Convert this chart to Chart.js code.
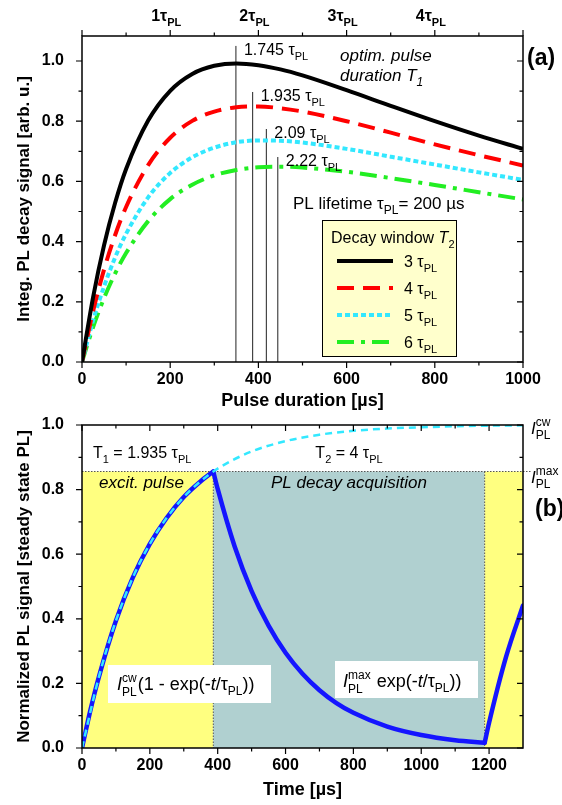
<!DOCTYPE html>
<html>
<head>
<meta charset="utf-8">
<script src="https://cdn.jsdelivr.net/npm/chart.js@4"></script>
<style>
  html, body { margin: 0; padding: 0; background: #fff; }
  #wrap { position: relative; width: 562px; height: 805px; }
  #wrap canvas { position: absolute; left: 0; top: 0; }
</style>
</head>
<body>
<div id="wrap">
  <canvas id="chartA" width="562" height="805"></canvas>
  <canvas id="chartB" width="562" height="805"></canvas>
</div>
<script>
// (a) integrated PL decay signal vs. excitation pulse duration, tau_PL = 200 us
var pulseDur = [0, 25, 50, 75, 100, 150, 200, 250, 300, 350, 400, 450, 500, 600, 700, 800, 900, 1000];
var sig3tau = [0, 0.214, 0.388, 0.528, 0.641, 0.802, 0.901, 0.957, 0.984, 0.992, 0.986, 0.972, 0.952, 0.903, 0.851, 0.800, 0.752, 0.708];
var sig4tau = [0, 0.168, 0.307, 0.421, 0.515, 0.654, 0.745, 0.801, 0.832, 0.846, 0.849, 0.843, 0.832, 0.800, 0.762, 0.723, 0.687, 0.653];
var sig5tau = [0, 0.137, 0.251, 0.347, 0.426, 0.547, 0.628, 0.680, 0.712, 0.730, 0.736, 0.735, 0.729, 0.708, 0.682, 0.656, 0.630, 0.605];
var sig6tau = [0, 0.115, 0.212, 0.294, 0.362, 0.468, 0.541, 0.589, 0.620, 0.638, 0.647, 0.649, 0.646, 0.632, 0.611, 0.588, 0.564, 0.540];
var windowLabels = ['3', '4', '5', '6'];
var optPulse = [349, 387, 418, 444];
var optLabels = ['1.745', '1.935', '2.09', '2.22'];
var optLineTop = [1.05, 0.897, 0.774, 0.681];
var tauTickVals = [200, 400, 600, 800];
var tauTickLabels = ['1', '2', '3', '4'];

// (b) PL transient for T1 = 1.935 tau, T2 = 4 tau
var riseT = [0, 25, 50, 100, 150, 200, 250, 300, 350, 387];
var riseI = [0, 0.118, 0.221, 0.394, 0.528, 0.632, 0.713, 0.777, 0.826, 0.856];
var decayT = [387, 400, 450, 500, 550, 600, 650, 700, 750, 800, 900, 1000, 1100, 1187];
var decayI = [0.856, 0.802, 0.624, 0.486, 0.379, 0.295, 0.230, 0.179, 0.139, 0.109, 0.066, 0.040, 0.024, 0.016];
var rise2T = [1187, 1200, 1250, 1300];
var rise2I = [0.016, 0.078, 0.282, 0.441];
var cwT = [0, 50, 100, 150, 200, 250, 300, 350, 400, 500, 600, 700, 800, 900, 1000, 1100, 1200, 1300];
var cwI = [0, 0.221, 0.394, 0.528, 0.632, 0.713, 0.777, 0.826, 0.865, 0.918, 0.950, 0.970, 0.982, 0.989, 0.993, 0.996, 0.998, 0.999];
var pulseEnd = 387, windowEnd = 1187, peakLevel = 0.856;

var FAM = '"Liberation Sans", Arial, Helvetica, sans-serif';
Chart.defaults.font.family = FAM;
Chart.defaults.color = '#000';

function pts(xs, ys) {
  return xs.map(function (x, i) { return {x: x, y: ys[i]}; });
}

function fnt(size, bold, italic) {
  return (italic ? 'italic ' : '') + (bold ? 'bold ' : '') + size + 'px ' + FAM;
}

// text with sub/superscripts; pieces are strings or {t, sub, sup, it, stack:[sup, sub]}
function richText(ctx, x, y, pieces, size, bold, align) {
  var small = Math.round(size * 0.68);
  var list = pieces.map(function (p) { return typeof p === 'string' ? {t: p} : p; });
  var widths = list.map(function (p) {
    if (p.stack) {
      ctx.font = fnt(small, bold, false);
      return Math.max(ctx.measureText(p.stack[0]).width, ctx.measureText(p.stack[1]).width) + 1;
    }
    ctx.font = fnt((p.sub || p.sup) ? small : size, bold, p.it);
    return ctx.measureText(p.t).width;
  });
  var total = widths.reduce(function (a, b) { return a + b; }, 0);
  if (align === 'center') x -= total / 2;
  else if (align === 'right') x -= total;
  ctx.textAlign = 'left';
  ctx.textBaseline = 'alphabetic';
  ctx.fillStyle = '#000';
  list.forEach(function (p, i) {
    if (p.stack) {
      ctx.font = fnt(small, bold, false);
      ctx.fillText(p.stack[0], x, y - size * 0.45);
      ctx.fillText(p.stack[1], x, y + size * 0.32);
    } else {
      ctx.font = fnt((p.sub || p.sup) ? small : size, bold, p.it);
      var dy = p.sub ? size * 0.3 : (p.sup ? -size * 0.45 : 0);
      ctx.fillText(p.t, x, y + dy);
    }
    x += widths[i];
  });
}

// closed frame with major/minor tick marks on all four sides
var frameTicks = {
  id: 'frameTicks',
  afterDraw: function (chart, args, opts) {
    var ctx = chart.ctx, a = chart.chartArea;
    var xs = chart.scales.x, ys = chart.scales.y;
    function marks(scale, cb) {
      var v = scale.ticks.map(function (t) { return t.value; });
      v.forEach(function (val) { cb(scale.getPixelForValue(val), 6); });
      for (var i = 0; i < v.length - 1; i++) cb(scale.getPixelForValue((v[i] + v[i + 1]) / 2), 3.5);
    }
    ctx.save();
    ctx.strokeStyle = '#000';
    ctx.lineWidth = 1.5;
    ctx.strokeRect(a.left, a.top, a.right - a.left, a.bottom - a.top);
    ctx.lineWidth = 1.2;
    ctx.beginPath();
    marks(xs, function (px, len) {
      ctx.moveTo(px, a.bottom); ctx.lineTo(px, a.bottom + len);
      ctx.moveTo(px, a.top); ctx.lineTo(px, a.top + (opts.topOut ? -len : len));
    });
    marks(ys, function (py, len) {
      ctx.moveTo(a.left, py); ctx.lineTo(a.left - len, py);
      ctx.moveTo(a.right, py); ctx.lineTo(a.right - len, py);
    });
    ctx.stroke();
    ctx.restore();
  }
};

function axisX(min, max, step, title, h) {
  return {
    type: 'linear', min: min, max: max,
    grid: {display: false}, border: {display: false},
    ticks: {stepSize: step, includeBounds: false, padding: 0, autoSkip: false, maxRotation: 0,
            font: {size: 16, weight: 'bold'}, color: '#000',
            callback: function (v) { return String(v); }},
    title: {display: true, text: title, font: {size: 18, weight: 'bold'}, color: '#000', padding: {top: 0, bottom: 0}},
    afterFit: function (s) { s.height = h; }
  };
}
function axisY(min, max, title) {
  return {
    type: 'linear', min: min, max: max,
    grid: {display: false}, border: {display: false},
    ticks: {stepSize: 0.2, includeBounds: false, padding: 10, font: {size: 16, weight: 'bold'}, color: '#000',
            callback: function (v) { return v.toFixed(1); }},
    title: {display: true, text: title, font: {size: 17, weight: 'bold'}, color: '#000', padding: {top: 14, bottom: 0}},
    afterFit: function (s) { s.width = 82; }
  };
}

// ---------- panel (a) ----------
var curveStyles = [
  {color: '#000000', dash: []},
  {color: '#ff0000', dash: [17, 9]},
  {color: '#33e8ff', dash: [5, 3]},
  {color: '#22ee22', dash: [17, 7, 4, 7]}
];
var curveData = [sig3tau, sig4tau, sig5tau, sig6tau];
var dsA = curveData.map(function (ys, i) {
  return {
    data: pts(pulseDur, ys), borderColor: curveStyles[i].color, borderDash: curveStyles[i].dash,
    borderWidth: 4, cubicInterpolationMode: 'monotone', pointRadius: 0, fill: false
  };
});
optPulse.forEach(function (t, i) {
  dsA.push({data: [{x: t, y: 0}, {x: t, y: optLineTop[i]}], borderColor: '#222', borderWidth: 1,
            tension: 0, pointRadius: 0, fill: false});
});

var notesA = {
  id: 'notesA',
  afterDatasetsDraw: function (chart) {
    var ctx = chart.ctx, xs = chart.scales.x, ys = chart.scales.y;
    ctx.save();
    // tau multiples on the top axis
    tauTickVals.forEach(function (v, i) {
      richText(ctx, xs.getPixelForValue(v) - 4, 21, [tauTickLabels[i] + 'τ', {t: 'PL', sub: 1}], 16, true, 'center');
    });
    // optimum pulse durations
    optPulse.forEach(function (t, i) {
      richText(ctx, xs.getPixelForValue(t) + 8, ys.getPixelForValue(optLineTop[i]) + 9,
               [optLabels[i] + ' τ', {t: 'PL', sub: 1}], 16, false, 'left');
    });
    richText(ctx, 340, 61, [{t: 'optim. pulse', it: 1}], 17, false, 'left');
    richText(ctx, 340, 81, [{t: 'duration T', it: 1}, {t: '1', sub: 1, it: 1}], 17, false, 'left');
    richText(ctx, 527, 65, ['(a)'], 23, true, 'left');
    richText(ctx, 293, 209, ['PL lifetime τ', {t: 'PL', sub: 1}, '= 200 µs'], 17, false, 'left');

    // legend box
    ctx.fillStyle = '#ffffcc';
    ctx.fillRect(322, 220, 134, 136);
    ctx.strokeStyle = '#000';
    ctx.lineWidth = 1;
    ctx.strokeRect(322.5, 220.5, 134, 136);
    richText(ctx, 331, 243, ['Decay window ', {t: 'T', it: 1}, {t: '2', sub: 1}], 16, false, 'left');
    windowLabels.forEach(function (lab, i) {
      var ds = chart.data.datasets[i];
      var y = 261 + i * 27;
      ctx.save();
      ctx.strokeStyle = ds.borderColor;
      ctx.lineWidth = ds.borderWidth;
      ctx.setLineDash(ds.borderDash);
      ctx.beginPath();
      ctx.moveTo(337, y); ctx.lineTo(393, y);
      ctx.stroke();
      ctx.restore();
      richText(ctx, 404, y + 6, [lab + ' τ', {t: 'PL', sub: 1}], 16, false, 'left');
    });
    ctx.restore();
  }
};

new Chart(document.getElementById('chartA'), {
  type: 'line',
  data: {datasets: dsA},
  options: {
    responsive: false, animation: false,
    layout: {padding: {left: 0, right: 39, top: 36, bottom: 393}},
    plugins: {legend: {display: false}, tooltip: {enabled: false}, frameTicks: {topOut: true}},
    scales: {
      x: axisX(0, 1000, 200, 'Pulse duration [µs]', 50),
      y: axisY(0, 1.083, 'Integ. PL decay signal [arb. u.]')
    }
  },
  plugins: [frameTicks, notesA]
});

// ---------- panel (b) ----------
var windows = [
  {from: 0, to: pulseEnd, color: '#ffff80'},
  {from: pulseEnd, to: windowEnd, color: '#b0d0d0'},
  {from: windowEnd, to: 1300, color: '#ffff80'}
];

var blue = {borderColor: '#1515ff', borderWidth: 4.5, cubicInterpolationMode: 'monotone',
            pointRadius: 0, fill: false, borderCapStyle: 'round', borderJoinStyle: 'round'};
var dsB = [
  {data: pts(cwT, cwI), borderColor: '#33e8ff', borderWidth: 2.5, borderDash: [7, 5],
   cubicInterpolationMode: 'monotone', pointRadius: 0, fill: false},
  Object.assign({data: pts(riseT, riseI)}, blue),
  Object.assign({data: pts(decayT, decayI)}, blue),
  Object.assign({data: pts(rise2T, rise2I)}, blue)
];

var notesB = {
  id: 'notesB',
  beforeDatasetsDraw: function (chart) {
    var ctx = chart.ctx, xs = chart.scales.x, ys = chart.scales.y, a = chart.chartArea;
    var yTop = ys.getPixelForValue(peakLevel);
    ctx.save();
    windows.forEach(function (w) {
      var x0 = xs.getPixelForValue(w.from), x1 = xs.getPixelForValue(w.to);
      ctx.fillStyle = w.color;
      ctx.fillRect(x0, yTop, x1 - x0, a.bottom - yTop);
    });
    ctx.strokeStyle = '#555';
    ctx.lineWidth = 1;
    ctx.setLineDash([1.5, 1.5]);
    ctx.beginPath();
    ctx.moveTo(a.left, yTop); ctx.lineTo(a.right + 8, yTop);
    [pulseEnd, windowEnd].forEach(function (t) {
      var px = xs.getPixelForValue(t);
      ctx.moveTo(px, yTop); ctx.lineTo(px, a.bottom);
    });
    ctx.stroke();
    ctx.restore();
  },
  afterDatasetsDraw: function (chart) {
    var ctx = chart.ctx, xs = chart.scales.x, ys = chart.scales.y;
    var mid = (xs.getPixelForValue(pulseEnd) + xs.getPixelForValue(windowEnd)) / 2;
    ctx.save();
    richText(ctx, 93, 458, ['T', {t: '1', sub: 1}, ' = 1.935 τ', {t: 'PL', sub: 1}], 16, false, 'left');
    richText(ctx, mid, 458, ['T', {t: '2', sub: 1}, ' = 4 τ', {t: 'PL', sub: 1}], 16, false, 'center');
    richText(ctx, 99, 488, [{t: 'excit. pulse', it: 1}], 17, false, 'left');
    richText(ctx, mid, 488, [{t: 'PL decay acquisition', it: 1}], 17, false, 'center');

    ctx.fillStyle = '#fff';
    ctx.fillRect(108, 665, 163, 38);
    ctx.fillRect(335, 661, 143, 37);
    richText(ctx, 117, 690, [{t: 'I', it: 1}, {stack: ['cw', 'PL']}, '(1 - exp(-', {t: 't', it: 1}, '/τ', {t: 'PL', sub: 1}, '))'], 18, false, 'left');
    richText(ctx, 343, 687, [{t: 'I', it: 1}, {stack: ['max', 'PL']}, ' exp(-', {t: 't', it: 1}, '/τ', {t: 'PL', sub: 1}, '))'], 18, false, 'left');

    richText(ctx, 531, 434, [{t: 'I', it: 1}, {stack: ['cw', 'PL']}], 17, false, 'left');
    richText(ctx, 531, 483, [{t: 'I', it: 1}, {stack: ['max', 'PL']}], 17, false, 'left');
    richText(ctx, 535, 516, ['(b)'], 23, true, 'left');
    ctx.restore();
  }
};

new Chart(document.getElementById('chartB'), {
  type: 'line',
  data: {datasets: dsB},
  options: {
    responsive: false, animation: false,
    layout: {padding: {left: 0, right: 39, top: 425, bottom: 4}},
    plugins: {legend: {display: false}, tooltip: {enabled: false}, frameTicks: {topOut: false}},
    scales: {
      x: axisX(0, 1300, 200, 'Time [µs]', 53),
      y: axisY(0, 1.0, 'Normalized PL signal [steady state PL]')
    }
  },
  plugins: [frameTicks, notesB]
});
</script>
</body>
</html>
